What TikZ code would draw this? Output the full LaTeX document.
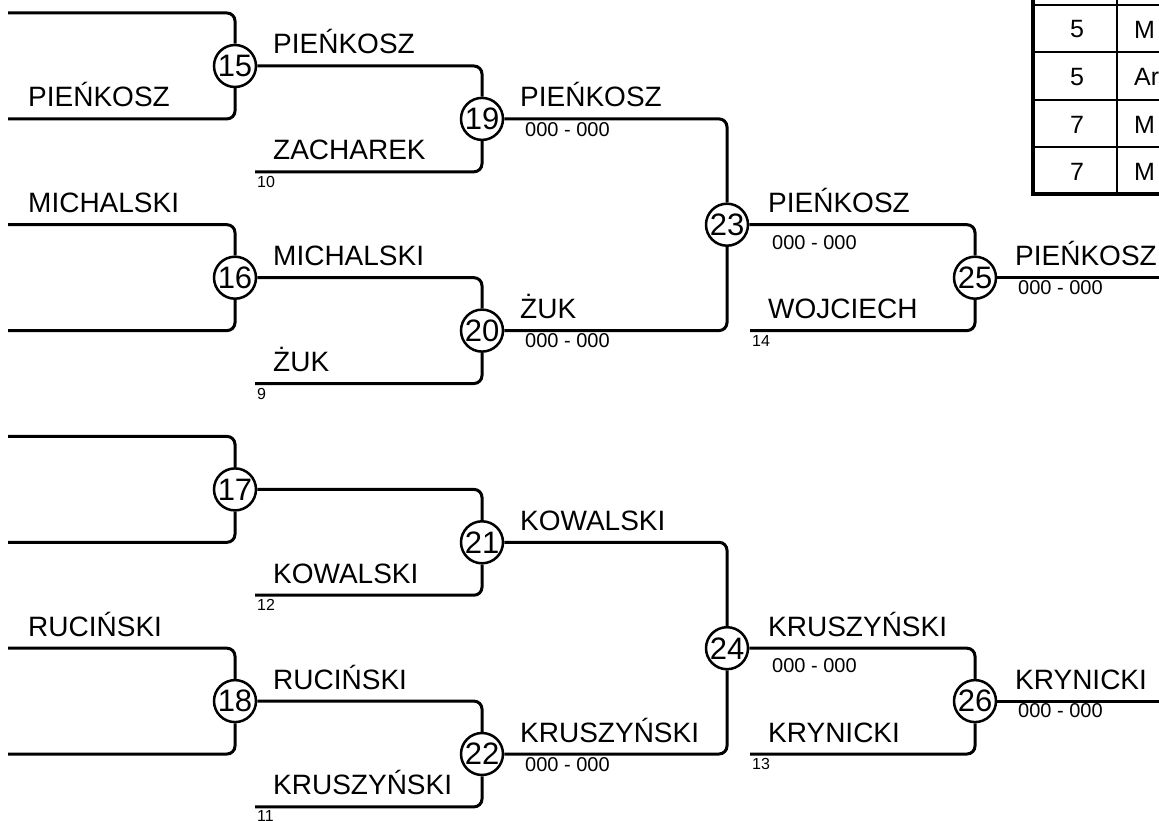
\documentclass[tikz,border=0pt]{standalone}
\usepackage{fontspec}
\setmainfont{Liberation Sans}
\begin{document}
\begin{tikzpicture}[x=1pt,y=-1pt,
  conn/.style={line width=3pt, rounded corners=8pt},
  rnd/.style={circle, draw, line width=2.5pt, fill=white, minimum size=42pt, inner sep=0pt, font=\fontsize{31}{31}\selectfont},
  pname/.style={anchor=base west, inner sep=0pt, font=\fontsize{28}{28}\selectfont},
  score/.style={anchor=north west, inner sep=0pt, font=\fontsize{20}{20}\selectfont},
  seed/.style={anchor=north west, inner sep=0pt, font=\fontsize{16}{16}\selectfont},
  tline/.style={line width=2.5pt},
  tthick/.style={line width=4.5pt},
  tcell/.style={inner sep=0pt, font=\fontsize{25}{25}\selectfont}]
\useasboundingbox (0,0) rectangle (1159,821);

% circles
\node[rnd] (c15) at (235,66) {15};
\node[rnd] (c16) at (235,277.7) {16};
\node[rnd] (c17) at (235,489.4) {17};
\node[rnd] (c18) at (235,701.1) {18};
\node[rnd] (c19) at (482,118.9) {19};
\node[rnd] (c20) at (482,330.6) {20};
\node[rnd] (c21) at (482,542.3) {21};
\node[rnd] (c22) at (482,754) {22};
\node[rnd] (c23) at (727,224.7) {23};
\node[rnd] (c24) at (727,648.2) {24};
\node[rnd] (c25) at (975,277.7) {25};
\node[rnd] (c26) at (975,701.1) {26};

% free ends
\coordinate (a15) at (8,13);    \coordinate (b15) at (8,118.9);
\coordinate (a16) at (8,224.7); \coordinate (b16) at (8,330.6);
\coordinate (a17) at (8,436.4); \coordinate (b17) at (8,542.3);
\coordinate (a18) at (8,648.2); \coordinate (b18) at (8,754);
\coordinate (b19) at (255,171.8);
\coordinate (b20) at (255,383.5);
\coordinate (b21) at (255,595.2);
\coordinate (b22) at (255,806.9);
\coordinate (b25) at (750,330.6);
\coordinate (b26) at (750,754);
\coordinate (e25) at (1170,277.7);
\coordinate (e26) at (1170,701.1);

% connectors
\draw[conn] (a15) -| (c15.north);
\draw[conn] (b15) -| (c15.south);
\draw[conn] (a16) -| (c16.north);
\draw[conn] (b16) -| (c16.south);
\draw[conn] (a17) -| (c17.north);
\draw[conn] (b17) -| (c17.south);
\draw[conn] (a18) -| (c18.north);
\draw[conn] (b18) -| (c18.south);
\draw[conn] (c15.east) -| (c19.north);
\draw[conn] (b19) -| (c19.south);
\draw[conn] (c16.east) -| (c20.north);
\draw[conn] (b20) -| (c20.south);
\draw[conn] (c17.east) -| (c21.north);
\draw[conn] (b21) -| (c21.south);
\draw[conn] (c18.east) -| (c22.north);
\draw[conn] (b22) -| (c22.south);
\draw[conn] (c19.east) -| (c23.north);
\draw[conn] (c20.east) -| (c23.south);
\draw[conn] (c21.east) -| (c24.north);
\draw[conn] (c22.east) -| (c24.south);
\draw[conn] (c23.east) -| (c25.north);
\draw[conn] (b25) -| (c25.south);
\draw[conn] (c24.east) -| (c26.north);
\draw[conn] (b26) -| (c26.south);
\draw[conn] (c25.east) -- (e25);
\draw[conn] (c26.east) -- (e26);

% names round 1
\node[pname] (n1) at (28,107) {PIEŃKOSZ};
\node[pname] (n2) at (28,212.7) {MICHALSKI};
\node[pname] (n3) at (28,636.2) {RUCIŃSKI};
% round 2
\node[pname] (n4) at (273,54) {PIEŃKOSZ};
\node[pname] (n5) at (273,159.8) {ZACHAREK};
\node[pname] (n6) at (273,265.7) {MICHALSKI};
\node[pname] (n7) at (273,371.5) {ŻUK};
\node[pname] (n8) at (273,583.2) {KOWALSKI};
\node[pname] (n9) at (273,689.1) {RUCIŃSKI};
\node[pname] (n10) at (273,794.9) {KRUSZYŃSKI};
% round 3
\node[pname] (n11) at (520,106.9) {PIEŃKOSZ};
\node[pname] (n12) at (520,318.6) {ŻUK};
\node[pname] (n13) at (520,530.3) {KOWALSKI};
\node[pname] (n14) at (520,742) {KRUSZYŃSKI};
% round 4
\node[pname] (n15) at (768,212.7) {PIEŃKOSZ};
\node[pname] (n16) at (768,318.6) {WOJCIECH};
\node[pname] (n17) at (768,636.2) {KRUSZYŃSKI};
\node[pname] (n18) at (768,742) {KRYNICKI};
% round 5
\node[pname] (n19) at (1015,265.7) {PIEŃKOSZ};
\node[pname] (n20) at (1015,689.1) {KRYNICKI};

% scores
\node[score] (s19) at (525,122) {000 - 000};
\node[score] (s20) at (525,333) {000 - 000};
\node[score] (s22) at (525,757) {000 - 000};
\node[score] (s23) at (772,235) {000 - 000};
\node[score] (s24) at (772,658) {000 - 000};
\node[score] (s25) at (1018,280) {000 - 000};
\node[score] (s26) at (1018,703) {000 - 000};

% seeds
\node[seed] (d10) at (257,176) {10};
\node[seed] (d9) at (257,388) {9};
\node[seed] (d12) at (257,599) {12};
\node[seed] (d11) at (257,810) {11};
\node[seed] (d14) at (752,335) {14};
\node[seed] (d13) at (752,758) {13};

% table
\draw[tline] (1033,5) -- (1170,5);
\draw[tline] (1033,52) -- (1170,52);
\draw[tline] (1033,100) -- (1170,100);
\draw[tline] (1033,147) -- (1170,147);
\draw[tline] (1117,-5) -- (1117,194);
\draw[tthick] (1033,-5) -- (1033,196.25);
\draw[tthick] (1030.75,194) -- (1170,194);
\node[tcell] (t1a) at (1077,29.5) {5};
\node[tcell] (t2a) at (1077,77) {5};
\node[tcell] (t3a) at (1077,124.5) {7};
\node[tcell] (t4a) at (1077,171.5) {7};
\node[tcell, anchor=west] (t1b) at (1134,29.5) {M};
\node[tcell, anchor=west] (t2b) at (1134,77) {Ar};
\node[tcell, anchor=west] (t3b) at (1134,124.5) {M};
\node[tcell, anchor=west] (t4b) at (1134,171.5) {M};
\end{tikzpicture}
\end{document}
